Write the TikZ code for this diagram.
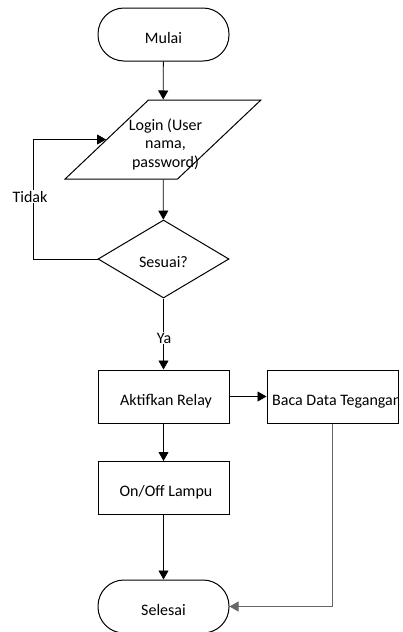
\documentclass[tikz,border=0pt]{standalone}
\usepackage{fontspec}
\setmainfont{Carlito}
\usetikzlibrary{shapes.geometric,arrows.meta}
\begin{document}
\begin{tikzpicture}[x=1pt,y=1pt,
  every node/.style={font=\fontsize{16}{18.5}\selectfont},
  base/.style={draw,line width=1pt,inner sep=0pt},
  txt/.style={text height=17.5pt,text depth=0pt},
  term/.style={base,txt,rounded corners=26pt,minimum width=131pt,minimum height=53pt},
  proc/.style={base,txt,minimum width=131pt,minimum height=53pt},
  io/.style={draw,line width=1pt,inner sep=2pt,trapezium,trapezium left angle=63,trapezium right angle=117,trapezium stretches=true,minimum width=196pt,minimum height=79pt},
  dec/.style={base,txt,diamond,aspect=1.68,minimum width=131pt,minimum height=78pt},
  arr/.style={line width=0.8pt,-{Triangle[length=9pt,width=10pt]}},
  lbl/.style={fill=white,inner sep=1pt}]
\useasboundingbox (0,0) rectangle (402,-632);
\node[term] (mulai) at (163.5,-34.5) {Mulai};
\node[io] (login) at (163,-139.5) {\strut};
\node[align=center,inner sep=0pt] (logintext) at (165.5,-144) {Login (User\\nama,\\password)};
\node[dec] (sesuai) at (163.5,-259) {Sesuai?};
\node[proc] (aktif) at (163.5,-396.5) {\hspace{5pt}Aktifkan Relay};
\node[proc] (baca) at (332.5,-396.5) {};
\begin{scope}
\clip (baca.south west) rectangle (baca.north east);
\node[anchor=base west,inner sep=0pt] (bacatext) at (272,-405) {Baca Data Tegangan};
\end{scope}
\node[proc] (lampu) at (163.5,-488) {\hspace{5pt}On/Off Lampu};
\node[term] (selesai) at (163.5,-606.5) {Selesai};
\draw[arr] (mulai) -- (login);
\draw[arr] (login) -- (sesuai);
\draw[arr] (sesuai.west) -- (33,-259) |- (login.west);
\node[lbl,anchor=base] (tidak) at (30,-202) {Tidak};
\draw[arr] (sesuai) -- (aktif);
\node[lbl,anchor=base] (ya) at (164,-343) {Ya};
\draw[arr] (aktif) -- (baca);
\draw[arr] (aktif) -- (lampu);
\draw[arr] (lampu) -- (selesai);
\draw[arr,draw=black!60] (baca.south) |- (selesai.east);
\end{tikzpicture}
\end{document}
